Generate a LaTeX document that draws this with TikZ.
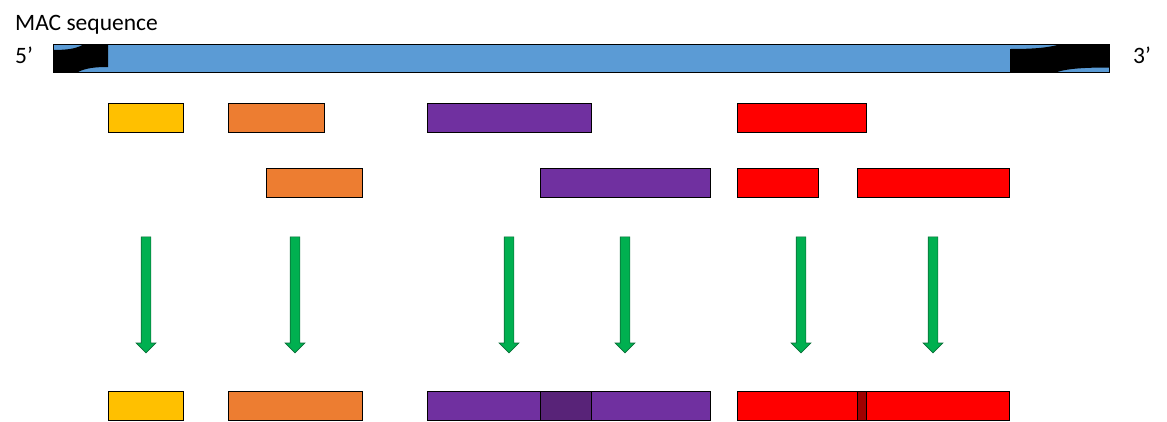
\documentclass[tikz,border=0pt]{standalone}
\usepackage{fontspec}
\setmainfont{Carlito}
\usetikzlibrary{shapes.arrows}
\definecolor{cblue}{HTML}{5B9BD5}
\definecolor{cyellow}{HTML}{FFC000}
\definecolor{corange}{HTML}{ED7D31}
\definecolor{cpurple}{HTML}{7030A0}
\definecolor{cdpurple}{HTML}{582378}
\definecolor{cred}{HTML}{FF0000}
\definecolor{cdred}{HTML}{A00000}
\definecolor{cgreen}{HTML}{00B050}
\definecolor{cdgreen}{HTML}{0B6E38}
\newcommand{\seg}[6]{%
  \node[segbox, fill=#6, minimum width={(#4-#2)*1pt}, minimum height={(#5-#3)*1pt}]
    (#1) at ({(#2+#4)/2},{(#3+#5)/2}) {};}
\begin{document}
\begin{tikzpicture}[x=1pt,y=-1pt,
  segbox/.style={draw=black, line width=0.9pt, inner sep=0pt, outer sep=0pt},
  garrow/.style={shape=single arrow, draw=cdgreen, fill=cgreen, line width=0.7pt,
    rotate=-90, anchor=tail, inner xsep=0pt, inner ysep=4.5pt,
    single arrow head extend=5pt, single arrow tip angle=90,
    minimum height=116pt},
  lbl/.style={inner sep=0pt, anchor=base west, font=\fontsize{23.5}{28}\selectfont}]
\useasboundingbox (0,0) rectangle (1167,421);
% title and ends
\node[lbl] (title) at (15,30) {MAC sequence};
\node[lbl] (five) at (15,63) {5’};
\node[lbl] (three) at (1133,63) {3’};
% sequence bar
\node[draw=none, fill=cblue, minimum width=1056pt, minimum height=28pt, inner sep=0pt, outer sep=0pt]
  (mac) at (581,58) {};
\fill[black] (53,50) .. controls (70,50) and (78,48) .. (84,44) -- (108,44) -- (108,67)
  .. controls (95,67) and (86,68) .. (78,72) -- (53,72) -- cycle;
\fill[black] (1010,49) .. controls (1032,49) and (1048,48) .. (1061,44) -- (1109,44) -- (1109,67.5)
  .. controls (1085,67.5) and (1068,68.5) .. (1057,72) -- (1010,72) -- cycle;
\draw[line width=0.9pt] (mac.north west) rectangle (mac.south east);
% row 1
\seg{r1a}{108}{103}{183}{132}{cyellow}
\seg{r1b}{228}{103}{324}{132}{corange}
\seg{r1c}{427}{103}{591}{132}{cpurple}
\seg{r1d}{737}{103}{866}{132}{cred}
% row 2
\seg{r2a}{266}{168}{362}{197}{corange}
\seg{r2b}{540}{168}{710}{197}{cpurple}
\seg{r2c}{737}{168}{818}{197}{cred}
\seg{r2d}{857}{168}{1009}{197}{cred}
% arrows
\node[garrow] (a1) at (146,236.5) {};
\node[garrow] (a2) at (295,236.5) {};
\node[garrow] (a3) at (509,236.5) {};
\node[garrow] (a4) at (625,236.5) {};
\node[garrow] (a5) at (801,236.5) {};
\node[garrow] (a6) at (933,236.5) {};
% result row
\seg{r3a}{108}{391}{183}{420}{cyellow}
\seg{r3b}{228}{391}{362}{420}{corange}
\seg{r3c}{427}{391}{710}{420}{cpurple}
\seg{r3cx}{540}{391}{591}{420}{cdpurple}
\seg{r3d}{737}{391}{1009}{420}{cred}
\seg{r3dx}{857}{391}{866}{420}{cdred}
\end{tikzpicture}
\end{document}
